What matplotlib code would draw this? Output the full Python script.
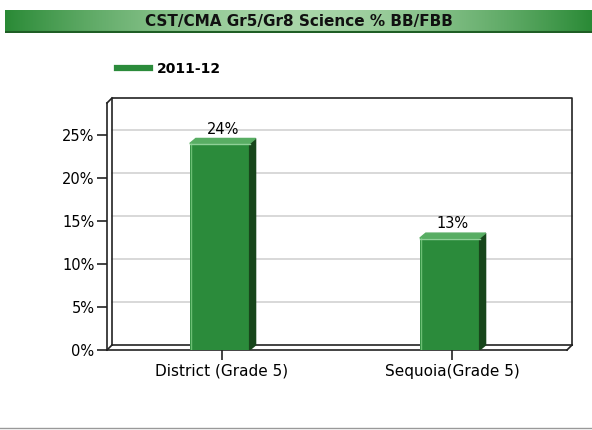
import numpy as np
import matplotlib
matplotlib.use("Agg")
import matplotlib.pyplot as plt
from matplotlib.patches import Polygon
from matplotlib.lines import Line2D
from matplotlib.transforms import ScaledTranslation

title = "CST/CMA Gr5/Gr8 Science % BB/FBB"
series_name = "2011-12"
categories = ["District (Grade 5)", "Sequoia(Grade 5)"]
values = [24, 13]
yticks = [0, 5, 10, 15, 20, 25]

front = "#2b8b3b"
side = "#17461b"
topc = "#58ad63"

fig = plt.figure(figsize=(5.92, 4.30), dpi=100)

# title bar with green-white-green gradient
tax = fig.add_axes([5 / 592, 1 - 33 / 430, 587 / 592, 23 / 430])
g = np.abs(np.linspace(-1, 1, 400)) ** 1.6
c0 = np.array(matplotlib.colors.to_rgb("#a9d6a9"))
c1 = np.array(matplotlib.colors.to_rgb("#2a8a36"))
grad = c0[None, :] * (1 - g[:, None]) + c1[None, :] * g[:, None]
tax.imshow(grad[None, :, :], aspect="auto", extent=[0, 1, 0, 1])
tax.plot([0, 1], [0.03, 0.03], color="#1f5e25", lw=1.5)
tax.set_xlim(0, 1)
tax.set_ylim(0, 1)
tax.axis("off")
tax.text(0.5, 0.5, title, ha="center", va="center", fontsize=11,
         fontweight="bold", color="#111111")

# bottom separator
fig.add_artist(Line2D([0, 1], [1 - 428 / 430] * 2, color="#999999", lw=1))

ax = fig.add_axes([107 / 592, 1 - 350 / 430, 460 / 592, 247 / 430])
ax.set_xlim(-0.5, 1.5)
ax.set_ylim(0, 28.7)
for s in ax.spines.values():
    s.set_visible(False)
ax.patch.set_visible(False)

back = ax.transAxes + ScaledTranslation(5 / 100, 5 / 100, fig.dpi_scale_trans)
backd = ax.transData + ScaledTranslation(5 / 100, 5 / 100, fig.dpi_scale_trans)

# gridlines on back wall
for v in yticks[1:]:
    ax.plot([-0.5, 1.5], [v, v], color="#d2d2d2", lw=1.2, transform=backd, zorder=0,
            clip_on=False)

# frame
k = dict(color="#222222", lw=1.2, zorder=1, clip_on=False)
ax.plot([0, 0, 1, 1], [0, 1, 1, 0], transform=back, **k)
ax.plot([0, 1], [0, 0], transform=back, **k)
ax.plot([0, 0], [0, 1], transform=ax.transAxes, **k)
ax.plot([0, 1], [0, 0], transform=ax.transAxes, **k)
fx = 5 / 460
fy = 5 / 247
ax.plot([0, fx], [1, 1 + fy], transform=ax.transAxes, **k)
ax.plot([0, fx], [0, fy], transform=ax.transAxes, **k)
ax.plot([1, 1 + fx], [0, fy], transform=ax.transAxes, **k)

x = np.arange(len(categories))
w = 0.26
dx = 6 / 230
dy = 5 / (247 / 28.7)
ax.bar(x - 0.01, values, width=w, color=front, zorder=3, label=series_name)
for xi, v in zip(x - 0.01, values):
    ax.add_patch(Polygon([(xi + w / 2, 0), (xi + w / 2 + dx, dy), (xi + w / 2 + dx, v + dy),
                          (xi + w / 2, v)], closed=True, color=side, zorder=3))
    ax.add_patch(Polygon([(xi - w / 2, v), (xi + w / 2, v), (xi + w / 2 + dx, v + dy),
                          (xi - w / 2 + dx, v + dy)], closed=True, color=topc, zorder=3))
    ax.plot([xi - w / 2 + 0.004, xi - w / 2 + 0.004], [0, v], color="#6cbf74", lw=1, zorder=4)
    ax.plot([xi - w / 2, xi + w / 2], [v - 0.1, v - 0.1], color="#8fd097", lw=1, zorder=4)
    ax.text(xi + dx / 2, v + dy + 0.2, f"{v}%", ha="center", va="bottom", fontsize=10.5)

ax.set_yticks(yticks)
ax.set_yticklabels([f"{v}%" for v in yticks], fontsize=10.5)
ax.set_xticks(x)
ax.set_xticklabels(categories, fontsize=11)
ax.tick_params(axis="y", length=7, width=1.2, color="#222222", pad=2)
ax.tick_params(axis="x", length=7, width=1.2, color="#222222", pad=3)

handle = Line2D([], [], color=front, lw=4.5)
fig.legend([handle], [series_name], loc="center left",
           bbox_to_anchor=(117 / 592, 1 - 69 / 430), frameon=False,
           borderpad=0, borderaxespad=0,
           handlelength=2.4, handletextpad=0.5, prop={"weight": "bold", "size": 10})

fig.savefig("out.png", dpi=100)
